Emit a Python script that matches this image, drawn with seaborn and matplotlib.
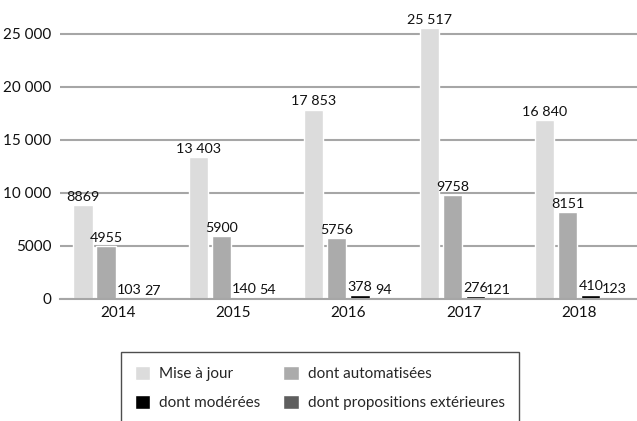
import matplotlib
matplotlib.use("Agg")
import matplotlib.pyplot as plt
import pandas as pd
import seaborn as sns

years = ["2014", "2015", "2016", "2017", "2018"]
series = ["Mise à jour", "dont automatisées", "dont modérées", "dont propositions extérieures"]
mise_a_jour = [8869, 13403, 17853, 25517, 16840]
automatisees = [4955, 5900, 5756, 9758, 8151]
moderees = [103, 140, 378, 276, 410]
propositions = [27, 54, 94, 121, 123]
colors = ["#dcdcdc", "#ababab", "#000000", "#5e5e5e"]

df = pd.DataFrame({
    "year": years * 4,
    "serie": [s for s in series for _ in years],
    "value": mise_a_jour + automatisees + moderees + propositions,
})

sns.set_style("white")
plt.rcParams["font.family"] = ["Lato", "DejaVu Sans"]


def fmt(v):
    s = f"{v:,}".replace(",", "\u202f")
    return s if v >= 10000 else str(v)


fig = plt.figure(figsize=(6.37, 4.21), dpi=100)
ax = fig.add_axes([0.094, 0.29, 0.906, 0.68])

sns.barplot(data=df, x="year", y="value", hue="serie", order=years, hue_order=series,
            palette=colors, width=0.8, gap=0.17, saturation=1, ax=ax, legend=True)

for cont in ax.containers:
    for bar in cont:
        h = bar.get_height()
        ax.text(bar.get_x() + bar.get_width() / 2, h + 200, fmt(int(round(h))),
                ha="center", va="bottom", fontsize=10.3, color="#111111")

ax.set_xlim(-0.5, 4.5)
ax.set_ylim(0, 27000)
ax.set_yticks([0, 5000, 10000, 15000, 20000, 25000])
ax.set_yticklabels([fmt(v) for v in [0, 5000, 10000, 15000, 20000, 25000]])
ax.yaxis.grid(True, color="#a6a6a6", linewidth=1.5)
ax.set_axisbelow(True)
for s in ["top", "right", "left"]:
    ax.spines[s].set_visible(False)
ax.spines["bottom"].set_color("#a6a6a6")
ax.spines["bottom"].set_linewidth(1.5)
ax.tick_params(axis="both", length=0, labelsize=11, colors="#111111")
ax.tick_params(axis="y", pad=6)
ax.tick_params(axis="x", pad=5)
ax.set_xlabel("")
ax.set_ylabel("")

handles, labels = ax.get_legend_handles_labels()
ax.get_legend().remove()
order = [0, 2, 1, 3]
leg = fig.legend([handles[i] for i in order], [labels[i] for i in order], ncol=2,
                 loc="upper left", bbox_to_anchor=(0.19, 0.163),
                 frameon=True, fancybox=False, fontsize=11,
                 handlelength=1.0, handleheight=1.0, handletextpad=0.6,
                 columnspacing=1.5, labelspacing=0.9, borderpad=0.9, borderaxespad=0)
leg.get_frame().set_edgecolor("#222222")
leg.get_frame().set_linewidth(1.0)

fig.savefig("out.png", dpi=100)
